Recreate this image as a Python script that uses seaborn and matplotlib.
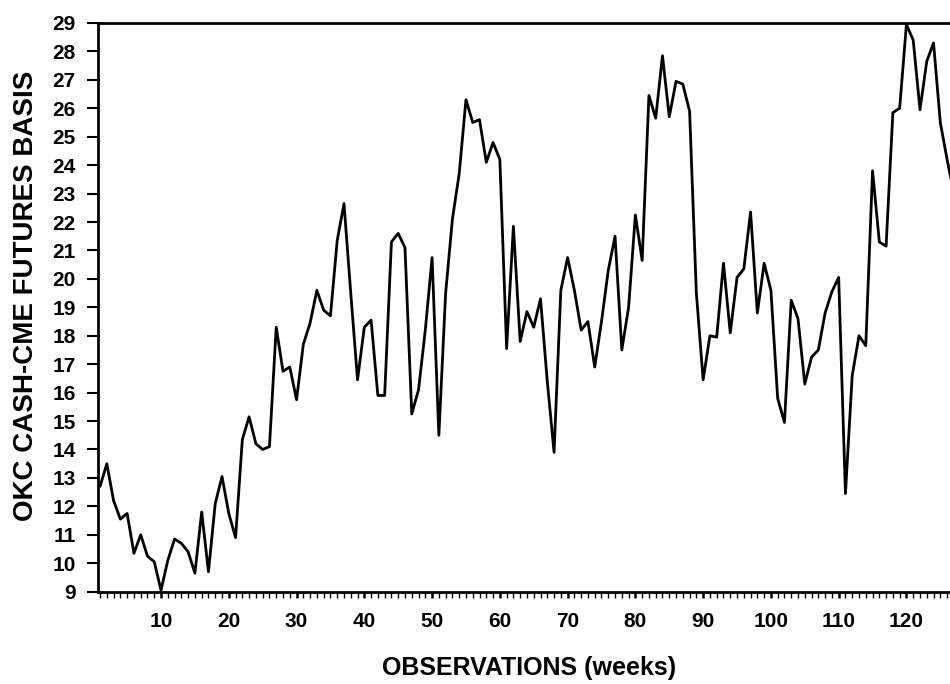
import numpy as np
import pandas as pd
import matplotlib
matplotlib.use("Agg")
import matplotlib.pyplot as plt
from matplotlib.ticker import MultipleLocator
import seaborn as sns

# Weekly Oklahoma City cash minus CME futures basis
weeks = list(range(1, 128))
basis = [
    12.7, 13.5, 12.2, 11.55, 11.75, 10.35, 11.0, 10.25, 10.05, 9.05,
    10.1, 10.85, 10.7, 10.4, 9.65, 11.8, 9.7, 12.1, 13.05, 11.75,
    10.9, 14.35, 15.15, 14.2, 14.0, 14.1, 18.3, 16.75, 16.9, 15.75,
    17.7, 18.45, 19.6, 18.9, 18.7, 21.35, 22.65, 19.5, 16.45, 18.3,
    18.55, 15.9, 15.9, 21.3, 21.6, 21.1, 15.25, 16.1, 18.2, 20.75,
    14.5, 19.5, 22.1, 23.7, 26.3, 25.5, 25.6, 24.1, 24.8, 24.2,
    17.55, 21.85, 17.8, 18.85, 18.3, 19.3, 16.4, 13.9, 19.6, 20.75,
    19.6, 18.2, 18.5, 16.9, 18.5, 20.3, 21.5, 17.5, 19.0, 22.25,
    20.65, 26.45, 25.65, 27.85, 25.7, 26.95, 26.85, 25.9, 19.5, 16.45,
    18.0, 17.95, 20.55, 18.1, 20.05, 20.35, 22.35, 18.8, 20.55, 19.6,
    15.8, 14.95, 19.25, 18.6, 16.3, 17.25, 17.5, 18.8, 19.55, 20.05,
    12.45, 16.6, 18.0, 17.65, 23.8, 21.3, 21.15, 25.85, 26.0, 28.95,
    28.4, 25.95, 27.65, 28.3, 25.5, 24.2, 23.0,
]
x_labels = [10, 20, 30, 40, 50, 60, 70, 80, 90, 100, 110, 120]
y_labels = list(range(9, 30))

df = pd.DataFrame({"week": weeks, "basis": basis})

sns.set_theme(style="ticks")
plt.rcParams["font.family"] = ["Liberation Sans", "DejaVu Sans"]
plt.rcParams["font.weight"] = "bold"

fig = plt.figure(figsize=(9.5, 6.84), dpi=100)
# axes extends past the right edge of the figure
ax = fig.add_axes([0.1032, 0.135, 0.908, 0.8314])

sns.lineplot(data=df, x="week", y="basis", ax=ax, color="black", linewidth=2.0)

ax.set_xlim(0.705, 128)
ax.set_ylim(9, 29)
ax.set_xticks(x_labels)
ax.set_xticklabels([str(v) for v in x_labels])
ax.xaxis.set_minor_locator(MultipleLocator(1))
ax.set_yticks(y_labels)
ax.set_yticklabels([str(v) for v in y_labels])

ax.tick_params(axis="y", which="major", direction="out", length=8, width=1.5,
               labelsize=15, colors="black", pad=8)
ax.tick_params(axis="x", which="major", direction="out", length=4.5, width=1.8,
               labelsize=15, colors="black", pad=10)
ax.tick_params(axis="x", which="minor", direction="out", length=4, width=1.0,
               colors="black")

for side in ("left", "bottom", "top"):
    ax.spines[side].set_visible(True)
    ax.spines[side].set_linewidth(2.0)
    ax.spines[side].set_color("black")
ax.spines["right"].set_visible(False)

ax.set_xlabel("OBSERVATIONS (weeks)", fontsize=18, fontweight="bold",
              labelpad=18, color="black")
ax.set_ylabel("OKC CASH-CME FUTURES BASIS", fontsize=20, fontweight="bold",
              color="black")
ax.yaxis.set_label_coords(-0.069, 0.52)
ax.grid(False)

fig.savefig("out.png", dpi=100, facecolor="white")
